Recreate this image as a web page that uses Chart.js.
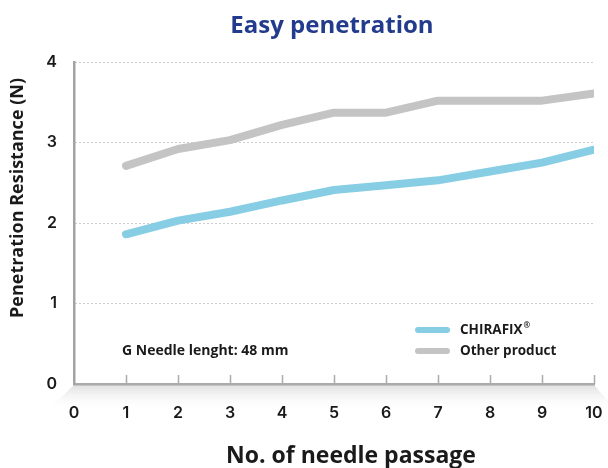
<!DOCTYPE html>
<html>
<head>
<meta charset="utf-8">
<script src="https://cdn.jsdelivr.net/npm/chart.js@4"></script>
<style>
  body { margin: 0; background: #fff; }
  #wrap { width: 608px; height: 468px; }
</style>
</head>
<body>
<div id="wrap"><canvas id="myChart" width="608" height="468"></canvas></div>
<script>
// data
let passes = [1, 2, 3, 4, 5, 6, 7, 8, 9, 10]
let chirafix = [1.86, 2.03, 2.14, 2.28, 2.41, 2.47, 2.53, 2.64, 2.75, 2.91]
let otherProduct = [2.71, 2.92, 3.03, 3.22, 3.37, 3.37, 3.52, 3.52, 3.52, 3.61]
let xTicks = [0, 1, 2, 3, 4, 5, 6, 7, 8, 9, 10]
let yTicks = [0, 1, 2, 3, 4]

let corAzul = '#87cee4'
let corCinza = '#c4c4c4'
let corTitulo = '#233b8c'
let corTexto = '#1a1a1a'
let fonte = '"Open Sans", "Noto Sans", sans-serif'
let fonteNum = 'Inter, "Noto Sans", sans-serif'

function pontos(valores) {
    return passes.map((p, i) => ({ x: p, y: valores[i] }))
}

// floor shadow, upward ticks, titles, legend and note
const extras = {
    id: 'extras',
    beforeDraw(chart) {
        const c = chart.ctx
        const a = chart.chartArea
        c.save()
        let g = c.createLinearGradient(0, a.bottom, 0, a.bottom + 26)
        g.addColorStop(0, '#dcdcdc')
        g.addColorStop(1, 'rgba(255,255,255,0)')
        c.fillStyle = g
        c.beginPath()
        c.moveTo(a.left, a.bottom + 1)
        c.lineTo(a.right, a.bottom + 1)
        c.lineTo(a.right + 22, a.bottom + 26)
        c.lineTo(a.left - 26, a.bottom + 26)
        c.closePath()
        c.fill()
        c.restore()
    },
    beforeDatasetsDraw(chart) {
        const c = chart.ctx
        const a = chart.chartArea
        const sx = chart.scales.x
        c.save()
        c.strokeStyle = '#aaaaaa'
        c.lineWidth = 1.5
        xTicks.forEach(v => {
            if (v === 0) return
            let px = Math.round(sx.getPixelForValue(v)) + 0.5
            c.beginPath()
            c.moveTo(px, a.bottom - 9)
            c.lineTo(px, a.bottom)
            c.stroke()
        })
        c.restore()
    },
    afterDraw(chart) {
        const c = chart.ctx
        c.save()
        // title
        c.fillStyle = corTitulo
        c.font = 'bold 24px ' + fonte
        c.textAlign = 'center'
        c.textBaseline = 'alphabetic'
        c.fillText('Easy penetration', 332, 33)

        // axis titles
        c.fillStyle = corTexto
        c.font = 'bold 23px ' + fonte
        c.fillText('No. of needle passage', 351, 463)

        c.save()
        c.translate(23, 198)
        c.rotate(-Math.PI / 2)
        c.font = 'bold 18px ' + fonte
        c.fillText('Penetration Resistance (N)', 0, 0)
        c.restore()

        // note
        c.textAlign = 'left'
        c.textBaseline = 'middle'
        c.font = 'bold 14px ' + fonte
        c.fillText('G Needle lenght: 48 mm', 122, 351)

        // legend
        let linhas = [330, 351]
        chart.data.datasets.forEach((ds, i) => {
            let y = linhas[i]
            c.strokeStyle = ds.borderColor
            c.lineWidth = 6
            c.lineCap = 'round'
            c.beginPath()
            c.moveTo(418, y)
            c.lineTo(447, y)
            c.stroke()
            c.fillStyle = corTexto
            c.font = 'bold 13.5px ' + fonte
            let txt = ds.label.replace('®', '')
            c.fillText(txt, 460, y)
            if (ds.label.indexOf('®') >= 0) {
                let w = c.measureText(txt).width
                c.font = 'bold 8px ' + fonte
                c.fillText('®', 461 + w, y - 4)
            }
        })
        c.restore()
    }
}

const ctx = document.getElementById('myChart').getContext('2d')
let myChart = new Chart(ctx, {
    type: 'line',
    data: {
        datasets: [{
            label: 'CHIRAFIX®',
            data: pontos(chirafix),
            borderColor: corAzul,
            backgroundColor: corAzul,
            borderWidth: 8,
            borderCapStyle: 'round',
            borderJoinStyle: 'bevel',
            pointRadius: 0,
            tension: 0
        }, {
            label: 'Other product',
            data: pontos(otherProduct),
            borderColor: corCinza,
            backgroundColor: corCinza,
            borderWidth: 8,
            borderCapStyle: 'round',
            borderJoinStyle: 'bevel',
            pointRadius: 0,
            tension: 0
        }]
    },
    options: {
        responsive: false,
        animation: false,
        layout: {
            padding: { top: 62, right: 14, left: 0, bottom: 0 }
        },
        plugins: {
            legend: { display: false },
            title: { display: false },
            tooltip: { enabled: false }
        },
        scales: {
            x: {
                type: 'linear',
                min: 0,
                max: 10,
                afterBuildTicks: (s) => { s.ticks = xTicks.map(v => ({ value: v })) },
                afterFit: (s) => { s.height = 84; s.paddingRight = 0; s.paddingLeft = 0 },
                grid: { color: 'rgba(0,0,0,0)', drawTicks: false },
                border: { display: true, color: '#aaaaaa', width: 2.5 },
                ticks: {
                    padding: 20,
                    color: corTexto,
                    font: { family: fonteNum, size: 16, weight: '600' },
                    maxRotation: 0
                }
            },
            y: {
                min: 0,
                max: 4,
                afterBuildTicks: (s) => { s.ticks = yTicks.map(v => ({ value: v })) },
                afterFit: (s) => { s.width = 74; s.paddingTop = 0; s.paddingBottom = 0 },
                grid: {
                    drawTicks: false,
                    lineWidth: 1,
                    color: (c) => c.tick && c.tick.value === 0 ? 'rgba(0,0,0,0)' : '#9a9a9a'
                },
                border: { display: true, color: '#a3a3a3', width: 2.5, dash: [1, 3] },
                ticks: {
                    padding: 17,
                    color: corTexto,
                    font: { family: fonteNum, size: 16, weight: '600' }
                }
            }
        }
    },
    plugins: [extras]
})
</script>
</body>
</html>
